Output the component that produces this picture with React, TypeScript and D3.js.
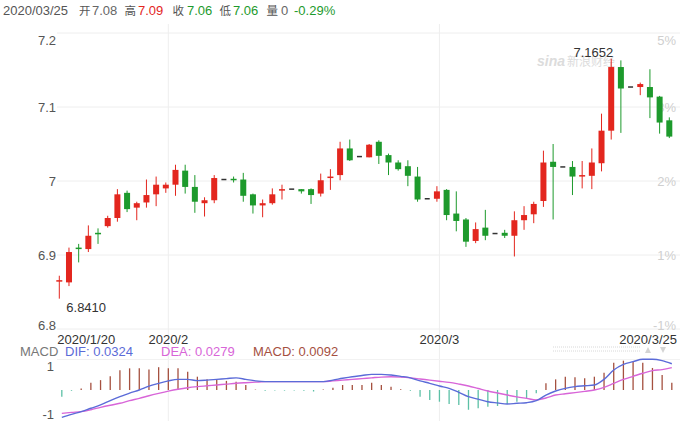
import React from "react";
import * as d3 from "d3";

const opens = [6.864, 6.863, 6.910, 6.908, 6.930, 6.939, 6.950, 6.984, 6.964, 6.971, 6.982, 6.990, 6.995, 7.014, 6.992, 6.970, 6.974, 7.002, 7.003, 7.002, 6.982, 6.967, 6.970, 6.987, 6.989, 6.989, 6.989, 6.983, 7.004, 7.008, 7.044, 7.033, 7.032, 7.053, 7.035, 7.025, 7.020, 7.006, 6.976, 6.976, 6.988, 6.956, 6.948, 6.919, 6.937, 6.929, 6.930, 6.926, 6.947, 6.955, 6.973, 7.026, 7.019, 7.019, 7.006, 7.007, 7.024, 7.068, 7.154, 7.127, 7.127, 7.127, 7.114, 7.082];
const highs = [6.872, 6.910, 6.915, 6.940, 6.936, 6.953, 6.989, 6.987, 6.972, 7.002, 7.006, 6.998, 7.022, 7.022, 7.008, 6.978, 7.008, 7.002, 7.006, 7.011, 6.983, 6.975, 6.990, 6.995, 6.989, 6.989, 6.990, 7.010, 7.016, 7.053, 7.056, 7.033, 7.050, 7.055, 7.037, 7.028, 7.028, 7.019, 6.976, 6.993, 6.989, 6.986, 6.950, 6.944, 6.961, 6.929, 6.934, 6.959, 6.966, 6.972, 7.041, 7.050, 7.019, 7.027, 7.027, 7.044, 7.091, 7.1652, 7.163, 7.127, 7.133, 7.151, 7.115, 7.086];
const lows = [6.841, 6.858, 6.890, 6.904, 6.915, 6.937, 6.945, 6.958, 6.947, 6.964, 6.966, 6.984, 6.980, 6.983, 6.957, 6.952, 6.970, 7.002, 6.998, 6.972, 6.956, 6.951, 6.968, 6.975, 6.989, 6.983, 6.969, 6.979, 6.988, 7.001, 7.027, 7.033, 7.032, 7.023, 7.008, 7.014, 6.993, 6.972, 6.976, 6.972, 6.947, 6.932, 6.911, 6.916, 6.920, 6.929, 6.923, 6.898, 6.934, 6.943, 6.965, 6.948, 7.019, 6.981, 6.990, 6.989, 7.013, 7.056, 7.065, 7.127, 7.116, 7.085, 7.064, 7.058];
const closes = [6.866, 6.904, 6.908, 6.926, 6.928, 6.950, 6.982, 6.962, 6.970, 6.981, 6.995, 6.995, 7.015, 6.992, 6.972, 6.974, 7.004, 7.002, 7.001, 6.980, 6.967, 6.970, 6.982, 6.989, 6.989, 6.986, 6.981, 7.001, 7.006, 7.044, 7.028, 7.033, 7.049, 7.034, 7.025, 7.016, 7.007, 6.975, 6.976, 6.986, 6.954, 6.946, 6.918, 6.935, 6.926, 6.929, 6.926, 6.947, 6.954, 6.969, 7.025, 7.019, 7.019, 7.006, 7.008, 7.025, 7.068, 7.154, 7.125, 7.127, 7.131, 7.113, 7.079, 7.060];

const difValues = [-0.036, -0.032, -0.0285, -0.024, -0.0197, -0.014, -0.0088, -0.004, 0.0, 0.005, 0.0088, 0.012, 0.014, 0.014, 0.0123, 0.013, 0.014, 0.015, 0.016, 0.014, 0.012, 0.011, 0.011, 0.011, 0.011, 0.011, 0.011, 0.011, 0.013, 0.0154, 0.0175, 0.019, 0.0206, 0.0206, 0.0197, 0.018, 0.016, 0.012, 0.0088, 0.0053, 0.0022, -0.003, -0.0088, -0.012, -0.0154, -0.017, -0.0184, -0.0175, -0.0167, -0.014, -0.0066, -0.0013, 0.0022, 0.0044, 0.0055, 0.0066, 0.014, 0.0263, 0.0338, 0.0373, 0.0404, 0.0404, 0.0386, 0.0345];
const deaValues = [-0.0307, -0.0295, -0.0285, -0.026, -0.0228, -0.02, -0.0175, -0.014, -0.011, -0.0075, -0.0044, -0.0015, 0.001, 0.003, 0.0044, 0.0055, 0.0066, 0.0077, 0.0088, 0.0096, 0.0103, 0.011, 0.011, 0.011, 0.011, 0.011, 0.011, 0.011, 0.012, 0.013, 0.014, 0.015, 0.016, 0.017, 0.0175, 0.017, 0.016, 0.0145, 0.013, 0.0115, 0.01, 0.0078, 0.0053, 0.002, -0.0013, -0.004, -0.0066, -0.009, -0.011, -0.013, -0.0105, -0.0066, -0.005, -0.0035, -0.0018, 0.0, 0.0035, 0.0088, 0.014, 0.018, 0.022, 0.0255, 0.0268, 0.0295];
const macdValues = [-0.0088, -0.001, 0.002, 0.0096, 0.013, 0.018, 0.026, 0.0285, 0.0285, 0.027, 0.03, 0.0285, 0.0285, 0.024, 0.0175, 0.014, 0.013, 0.012, 0.011, 0.0066, 0.0005, -0.001, -0.0008, -0.0008, -0.0008, -0.001, -0.002, 0.0005, 0.003, 0.0066, 0.0066, 0.0066, 0.0096, 0.0066, 0.0044, 0.001, -0.001, -0.0088, -0.013, -0.0154, -0.0184, -0.0197, -0.026, -0.024, -0.022, -0.021, -0.0184, -0.0154, -0.011, -0.0044, 0.0088, 0.014, 0.0175, 0.0167, 0.0154, 0.0175, 0.0228, 0.036, 0.0386, 0.037, 0.036, 0.029, 0.0197, 0.0096];

const priceTicks = [7.2, 7.1, 7.0, 6.9, 6.8];
const priceTickLabels = ["7.2", "7.1", "7", "6.9", "6.8"];
const pctTickLabels = ["5%", "3%", "2%", "1%", "-1%"];
const dateTickIndex = [0, 11, 39, 63];
const dateTickLabels = ["2020/1/20", "2020/2", "2020/3", "2020/3/25"];
const macdTickValues = [0.0316, -0.0316];
const macdTickLabels = ["1", "-1"];

const FONT = "'Liberation Sans', Arial, 'Noto Sans CJK SC', sans-serif";
const RED = "#e3261e";
const GREEN = "#1d9a2c";
const DIF_C = "#5b6bd8";
const DEA_C = "#d865d8";
const POS_C = "#a5503f";
const NEG_C = "#5cc0a6";

export default function App() {
  const n = closes.length;
  const idx = d3.range(n);
  const x = d3.scalePoint<number>().domain(idx).range([59.3, 669.3]);
  const step = x.step();
  const y = d3.scaleLinear().domain([6.8, 7.2]).range([329, 33]);
  const ym = d3.scaleLinear().domain([-0.04, 0.04]).range([420.4, 359.6]);
  const gx = (i: number) => (x(i) as number) + step * 0.26;

  const difLine = d3.line<number>().x((_, i) => gx(i)).y((d) => ym(d)).curve(d3.curveMonotoneX);
  const deaLine = d3.line<number>().x((_, i) => gx(i)).y((d) => ym(d)).curve(d3.curveMonotoneX);

  const maxI = d3.maxIndex(highs);
  const minI = d3.minIndex(lows);
  const bodyW = 6;

  const header = [
    { t: "2020/03/25", x: 3, c: "#555", s: 13 },
    { t: "开", x: 79, c: "#555", s: 11.5 },
    { t: "7.08", x: 92, c: "#666", s: 13 },
    { t: "高", x: 124.5, c: "#555", s: 11.5 },
    { t: "7.09", x: 138, c: RED, s: 13 },
    { t: "收", x: 172.5, c: "#555", s: 11.5 },
    { t: "7.06", x: 187, c: GREEN, s: 13 },
    { t: "低", x: 219.5, c: "#555", s: 11.5 },
    { t: "7.06", x: 233, c: GREEN, s: 13 },
    { t: "量", x: 266.5, c: "#555", s: 11.5 },
    { t: "0", x: 281, c: "#666", s: 13 },
    { t: "-0.29%", x: 294, c: GREEN, s: 13 },
  ];

  return (
    <div style={{ position: "absolute", left: 0, top: 0 }}>
      <svg width={680} height={421} style={{ display: "block", fontFamily: FONT }}>
        <rect width={680} height={421} fill="#fff" />
        {header.map((h, k) => (
          <text key={k} x={h.x} y={15} fontSize={h.s} fill={h.c}>{h.t}</text>
        ))}
        {dateTickIndex.slice(1, 3).map((i) => (
          <line key={i} x1={gx(i)} x2={gx(i)} y1={24} y2={421} stroke="#eeeeee" strokeWidth={1} />
        ))}
        {priceTicks.map((v) => (
          <line key={v} x1={57} x2={680} y1={y(v)} y2={y(v)} stroke="#eeeeee" strokeWidth={1} />
        ))}
        <line x1={57} x2={680} y1={359.5} y2={359.5} stroke="#f2f2f2" strokeWidth={1} />
        {priceTicks.map((v, k) => (
          <text key={v} x={56} y={Math.min(Math.max(y(v), 40), 325)} dy="0.35em" textAnchor="end" fontSize={13} fill="#555">
            {priceTickLabels[k]}
          </text>
        ))}
        {priceTicks.map((v, k) => (
          <text key={v} x={676} y={Math.min(Math.max(y(v), 40), 325)} dy="0.35em" textAnchor="end" fontSize={13} fill="#cfcfcf">
            {pctTickLabels[k]}
          </text>
        ))}
        <text x={537} y={66} fontSize={14} fontStyle="italic" fontWeight="bold" fill="#dcdcdc">sina</text>
        <text x={567} y={66} fontSize={12} fill="#dcdcdc">新浪财经</text>
        {idx.map((i) => {
          const cx = x(i) as number;
          const o = opens[i], c = closes[i], h = highs[i], l = lows[i];
          if (o === c && h === l) {
            return <line key={i} x1={cx - 2.5} x2={cx + 2.5} y1={y(c)} y2={y(c)} stroke="#333" strokeWidth={1.5} />;
          }
          const col = c >= o ? RED : GREEN;
          const top = y(Math.max(o, c));
          const bh = Math.max(1.5, Math.abs(y(o) - y(c)));
          return (
            <g key={i}>
              <line x1={cx} x2={cx} y1={y(h)} y2={y(l)} stroke={col} strokeWidth={1} />
              <rect x={cx - bodyW / 2} y={top} width={bodyW} height={bh} fill={col} />
            </g>
          );
        })}
        <text x={(x(maxI) as number) + 2} y={y(highs[maxI]) - 2} textAnchor="end" fontSize={13} fill="#333">
          {highs[maxI].toFixed(4)}
        </text>
        <text x={(x(minI) as number) + 7} y={y(lows[minI]) + 13} fontSize={13} fill="#333">
          {lows[minI].toFixed(4)}
        </text>
        {dateTickIndex.map((i, k) => {
          const first = k === 0;
          const last = k === dateTickIndex.length - 1;
          const tx = first ? (x(i) as number) - 2 : last ? 677 : gx(i);
          return (
            <text key={i} x={tx} y={344} textAnchor={first ? "start" : last ? "end" : "middle"} fontSize={13} fill="#333">
              {dateTickLabels[k]}
            </text>
          );
        })}
        <text x={20} y={356} fontSize={13} fill="#777">MACD</text>
        <text x={65} y={356} fontSize={13} fill={DIF_C}>DIF: 0.0324</text>
        <text x={161} y={356} fontSize={13} fill={DEA_C}>DEA: 0.0279</text>
        <text x={253} y={356} fontSize={13} fill={POS_C}>MACD: 0.0092</text>
        <line x1={553} x2={640} y1={347} y2={347} stroke="#d8d8d8" strokeDasharray="1,1" />
        <line x1={553} x2={640} y1={351} y2={351} stroke="#d8d8d8" strokeDasharray="1,1" />
        <path d="M645,353 L648,347 L651,353 Z" fill="#d4d4d4" />
        <path d="M660,347 L663,353 L666,347 Z" fill="#d4d4d4" />
        {macdTickValues.map((v, k) => (
          <text key={v} x={54} y={ym(v)} dy="0.35em" textAnchor="end" fontSize={13} fill="#555">
            {macdTickLabels[k]}
          </text>
        ))}
        {macdValues.map((v, i) => (
          <line key={i} x1={gx(i)} x2={gx(i)} y1={ym(0)} y2={ym(v)} stroke={v >= 0 ? POS_C : NEG_C} strokeWidth={1.3} />
        ))}
        <path d={deaLine(deaValues) || ""} fill="none" stroke={DEA_C} strokeWidth={1.4} />
        <path d={difLine(difValues) || ""} fill="none" stroke={DIF_C} strokeWidth={1.4} />
      </svg>
    </div>
  );
}
